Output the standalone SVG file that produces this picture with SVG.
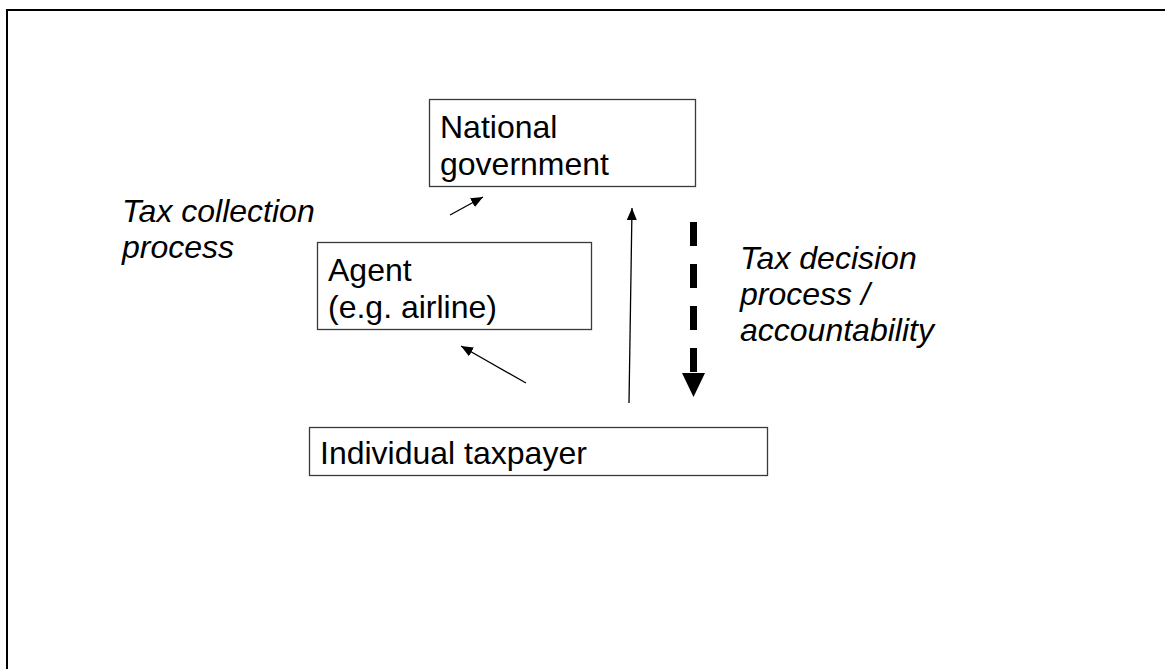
<svg xmlns="http://www.w3.org/2000/svg" width="1165" height="669" viewBox="0 0 1165 669">
  <style>
    .box { fill: #ffffff; stroke: #3a3a3a; stroke-width: 1.3; }
    .lbl { font-family: "Liberation Sans", Arial, sans-serif; font-size: 32px; fill: #000000; }
    .it { font-style: italic; }
    .thin { stroke: #000000; stroke-width: 1.3; fill: none; marker-end: url(#ah); }
  </style>
  <defs>
    <marker id="ah" viewBox="0 0 12 10" refX="12" refY="5" markerWidth="12" markerHeight="10" markerUnits="userSpaceOnUse" orient="auto">
      <path d="M0,0 L12,5 L0,10 Z" fill="#000000"/>
    </marker>
  </defs>
  <rect x="0" y="0" width="1165" height="669" fill="#ffffff"/>
  <path d="M7,680 L7,10 L1180,10" fill="none" stroke="#000000" stroke-width="2"/>

  <g id="label-collection">
    <text class="lbl it" x="122" y="222">Tax collection</text>
    <text class="lbl it" x="122" y="258">process</text>
  </g>
  <g id="label-decision">
    <text class="lbl it" x="740" y="269">Tax decision</text>
    <text class="lbl it" x="740" y="305">process /</text>
    <text class="lbl it" x="740" y="341">accountability</text>
  </g>

  <g id="national-government">
    <rect class="box" x="429.5" y="99.5" width="266" height="87"/>
    <text class="lbl" x="440" y="138">National</text>
    <text class="lbl" x="440" y="175">government</text>
  </g>
  <g id="agent">
    <rect class="box" x="317.5" y="242.5" width="274" height="87"/>
    <text class="lbl" x="328" y="281">Agent</text>
    <text class="lbl" x="328" y="318">(e.g. airline)</text>
  </g>
  <g id="individual-taxpayer">
    <rect class="box" x="309.5" y="427.5" width="458" height="48"/>
    <text class="lbl" x="320" y="464">Individual taxpayer</text>
  </g>

  <g id="connectors">
    <line class="thin" x1="450" y1="215" x2="483" y2="197"/>
    <line class="thin" x1="526" y1="383" x2="461" y2="346"/>
    <line class="thin" x1="629" y1="403" x2="632" y2="208"/>
    <line x1="693.5" y1="222" x2="693.5" y2="372" stroke="#000000" stroke-width="7" stroke-dasharray="24 18"/>
    <polygon points="682,373 705,373 693.5,397" fill="#000000"/>
  </g>
</svg>
